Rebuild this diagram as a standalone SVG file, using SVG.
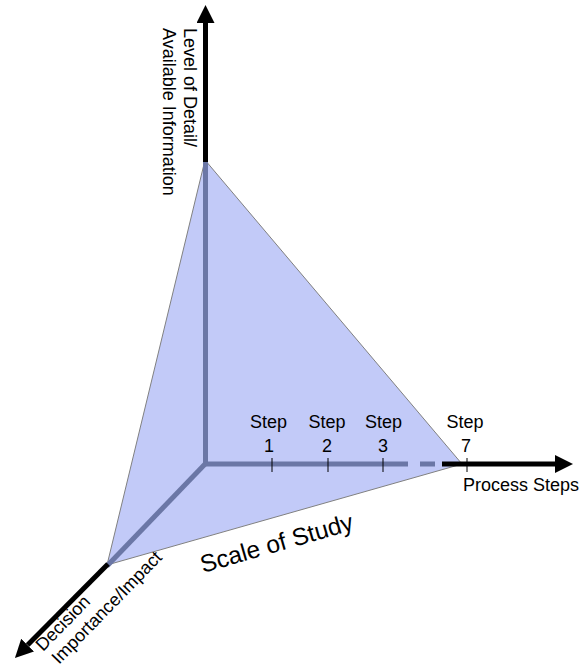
<svg xmlns="http://www.w3.org/2000/svg" width="580" height="669" viewBox="0 0 580 669">
  <style>
    text { font-family: "Liberation Sans", Arial, sans-serif; font-size: 18px; fill: #000; }
    .mid { text-anchor: middle; }
    .gray { stroke: #6b77a6; stroke-width: 5; fill: none; }
    .blk { stroke: #000; stroke-width: 5; fill: none; }
    .tick { stroke: #000; stroke-width: 1; }
  </style>
  <defs>
    <marker id="arrow" viewBox="0 0 18 18" refX="0" refY="9" markerWidth="18" markerHeight="18" orient="auto" markerUnits="userSpaceOnUse">
      <path d="M0,0 L18,9 L0,18 z" fill="#000"/>
    </marker>
  </defs>
  <rect width="580" height="669" fill="#fff"/>
  <g id="triangle">
    <polygon points="205,160 107,565 462,464" fill="#c2caf8" stroke="#808080" stroke-width="1"/>
  </g>
  <g id="connectors">
    <line class="gray" x1="205.5" y1="160" x2="205.5" y2="466"/>
    <line class="gray" x1="205.5" y1="464" x2="408" y2="464"/>
    <line class="gray" x1="420" y1="464" x2="435" y2="464"/>
    <line class="gray" x1="207" y1="462" x2="107" y2="566"/>
    <line class="blk" x1="205.5" y1="162" x2="205.5" y2="23" marker-end="url(#arrow)"/>
    <line class="blk" x1="442" y1="464" x2="555" y2="464" marker-end="url(#arrow)"/>
    <line class="blk" x1="108" y1="564" x2="27.6" y2="645.1" marker-end="url(#arrow)"/>
    <line class="tick" x1="272" y1="458" x2="272" y2="472"/>
    <line class="tick" x1="328" y1="458" x2="328" y2="472"/>
    <line class="tick" x1="383" y1="458" x2="383" y2="472"/>
    <line class="tick" x1="467" y1="458" x2="467" y2="472"/>
  </g>
  <g id="axis-level">
    <text transform="translate(184,28) rotate(90)">Level of Detail/</text>
    <text transform="translate(163,28) rotate(90)">Available Information</text>
  </g>
  <g id="axis-process">
    <text x="463" y="491">Process Steps</text>
  </g>
  <g id="axis-decision">
    <text transform="translate(43,652) rotate(-45.7)">Decision</text>
    <text transform="translate(59,665) rotate(-45.7)">Importance/Impact</text>
  </g>
  <g id="step1"><text class="mid" x="268.5" y="428">Step</text><text class="mid" x="269" y="452">1</text></g>
  <g id="step2"><text class="mid" x="327" y="428">Step</text><text class="mid" x="327" y="452">2</text></g>
  <g id="step3"><text class="mid" x="383.5" y="428">Step</text><text class="mid" x="383" y="452">3</text></g>
  <g id="step7"><text class="mid" x="465" y="428">Step</text><text class="mid" x="466" y="452">7</text></g>
  <g id="scale">
    <text transform="translate(203,573) rotate(-16)" style="font-size:24.5px">Scale of Study</text>
  </g>
</svg>
